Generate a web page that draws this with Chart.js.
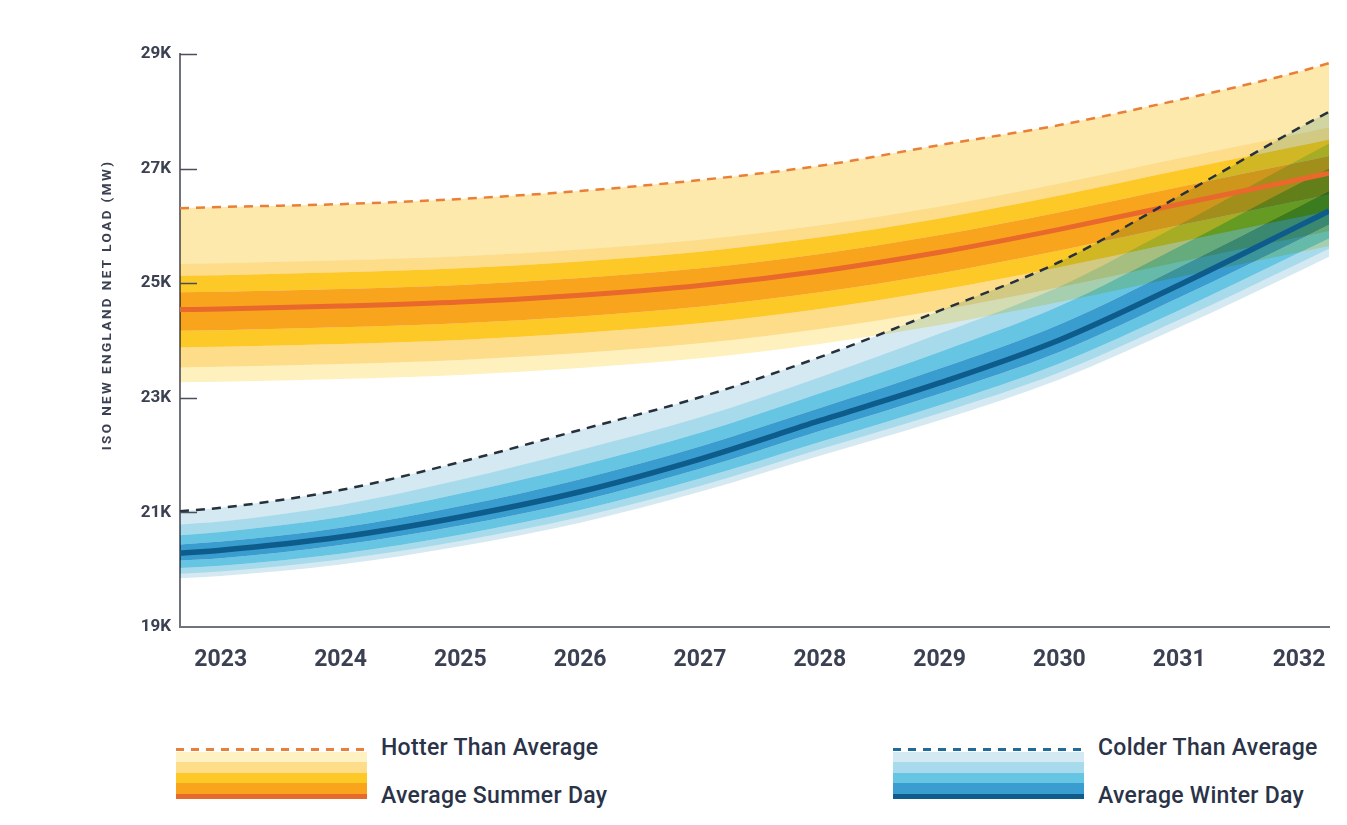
<!DOCTYPE html>
<html><head><meta charset="utf-8">
<script src="https://cdn.jsdelivr.net/npm/chart.js@4.4.0/dist/chart.umd.min.js"></script>
<style>
html,body{margin:0;padding:0;background:#fff;}
body{width:1347px;height:825px;position:relative;overflow:hidden;font-family:Roboto, "Noto Sans", sans-serif;}
#wrap{position:absolute;left:0;top:0;width:1347px;height:700px;}
.s{position:absolute;}
.lt{position:absolute;font-size:23px;font-weight:500;letter-spacing:0.3px;color:#2a3347;line-height:1;white-space:nowrap;}
</style></head><body>
<div id="wrap"><canvas id="c" width="1347" height="700"></canvas></div>

<!-- summer legend swatch -->
<div class="s" style="left:176px;top:748px;width:191px;height:3px;background:repeating-linear-gradient(90deg,#e8803a 0 8px,transparent 8px 15px)"></div>
<div class="s" style="left:176px;top:752px;width:191px;height:10px;background:#fef2c2"></div>
<div class="s" style="left:176px;top:762px;width:191px;height:11px;background:#fddd8a"></div>
<div class="s" style="left:176px;top:773px;width:191px;height:10px;background:#fdc926"></div>
<div class="s" style="left:176px;top:783px;width:191px;height:11px;background:#f8a51d"></div>
<div class="s" style="left:176px;top:794px;width:191px;height:5px;background:#e8692b"></div>
<div class="lt" style="left:381px;top:736px;">Hotter Than Average</div>
<div class="lt" style="left:381px;top:784px;">Average Summer Day</div>

<!-- winter legend swatch -->
<div class="s" style="left:893px;top:748px;width:191px;height:3px;background:repeating-linear-gradient(90deg,#1f6b99 0 8px,transparent 8px 15px)"></div>
<div class="s" style="left:893px;top:752px;width:191px;height:10px;background:#d4e9f1"></div>
<div class="s" style="left:893px;top:762px;width:191px;height:11px;background:#a7dbeb"></div>
<div class="s" style="left:893px;top:773px;width:191px;height:10px;background:#66c5e3"></div>
<div class="s" style="left:893px;top:783px;width:191px;height:11px;background:#3a9dcf"></div>
<div class="s" style="left:893px;top:794px;width:191px;height:5px;background:#0e5c8c"></div>
<div class="lt" style="left:1098px;top:736px;">Colder Than Average</div>
<div class="lt" style="left:1098px;top:784px;">Average Winter Day</div>

<script>
// ---------- DATA ----------
const years = [2022.66, 2023, 2024, 2025, 2026, 2027, 2028, 2029, 2030, 2031, 2032, 2032.25];
const tickYears = [2023, 2024, 2025, 2026, 2027, 2028, 2029, 2030, 2031, 2032];
const xTickLabels = ['2023','2024','2025','2026','2027','2028','2029','2030','2031','2032'];
const yTickValues = [19000, 21000, 23000, 25000, 27000, 29000];
const yTickLabels = ['19K','21K','23K','25K','27K','29K'];
const yAxisTitle = 'ISO NEW ENGLAND NET LOAD (MW)';

// Summer (MW)
const hotterThanAvg      = [26310, 26330, 26380, 26470, 26610, 26800, 27050, 27410, 27760, 28200, 28690, 28840];
const summerLightTop     = [25340, 25350, 25400, 25470, 25590, 25760, 26010, 26340, 26740, 27180, 27610, 27720];
const summerGoldTop      = [25130, 25140, 25190, 25260, 25380, 25550, 25800, 26130, 26530, 26970, 27400, 27510];
const summerOrangeTop    = [24840, 24850, 24900, 24970, 25090, 25260, 25510, 25840, 26240, 26680, 27110, 27220];
const avgSummerDay       = [24540, 24550, 24600, 24670, 24790, 24960, 25210, 25540, 25940, 26380, 26810, 26920];
const summerOrangeBottom = [24170, 24180, 24230, 24300, 24420, 24590, 24840, 25170, 25570, 26010, 26440, 26550];
const summerGoldBottom   = [23880, 23890, 23940, 24010, 24130, 24300, 24550, 24880, 25280, 25720, 26150, 26260];
const summerLightBottom  = [23530, 23540, 23590, 23660, 23780, 23950, 24200, 24530, 24930, 25370, 25800, 25910];
const summerOuterBottom  = [23270, 23280, 23330, 23400, 23520, 23690, 23940, 24270, 24670, 25110, 25540, 25650];

// Winter (MW)
const colderThanAvg      = [21020, 21080, 21390, 21880, 22440, 23010, 23710, 24520, 25370, 26520, 27710, 27990];
const winterPaleTop      = [20790, 20840, 21130, 21570, 22090, 22660, 23360, 24120, 24940, 26020, 27160, 27440];
const winterMidTop       = [20600, 20660, 20920, 21330, 21820, 22390, 23080, 23800, 24600, 25640, 26740, 27000];
const winterDeepTop      = [20440, 20490, 20730, 21110, 21580, 22150, 22820, 23510, 24280, 25280, 26340, 26610];
const avgWinterDay       = [20290, 20340, 20570, 20920, 21360, 21930, 22600, 23260, 24010, 24970, 26000, 26260];
const winterDeepBottom   = [20160, 20200, 20430, 20770, 21200, 21760, 22420, 23070, 23800, 24750, 25760, 26020];
const winterMidBottom    = [20030, 20070, 20280, 20610, 21040, 21590, 22230, 22870, 23600, 24530, 25530, 25780];
const winterPaleBottom   = [19930, 19970, 20180, 20500, 20920, 21460, 22100, 22730, 23440, 24360, 25350, 25600];
const winterOuterBottom  = [19850, 19890, 20090, 20410, 20820, 21360, 21990, 22610, 23320, 24230, 25210, 25460];

// ---------- COLOURS ----------
const C = {
  sHot:'#fce9ab', sLight:'#fef1be', sPale:'#fddd8a', sGold:'#fdc926', sOrange:'#f8a51d', sLine:'#e8692b', sDash:'#ea7f38',
  wCold:'#d4e9f1', wLight:'#a7dbeb', wMid:'#66c5e3', wDeep:'#3a9dcf', wLine:'#0e5c8c', wDash:'#27303d'
};

const pts = arr => years.map((x, i) => ({x, y: arr[i]}));
function band(arr, color, fill, order){
  return {data: pts(arr), backgroundColor: color, fill: fill, borderWidth: 0, pointRadius: 0, order: order,
          cubicInterpolationMode: 'monotone'};
}
function line(arr, color, width, dash, order){
  return {data: pts(arr), borderColor: color, borderWidth: width, borderDash: dash || [], fill: false,
          pointRadius: 0, order: order, cubicInterpolationMode: 'monotone', borderCapStyle: 'butt'};
}

const datasets = [
  // summer bands
  band(summerOuterBottom, 'rgba(0,0,0,0)', false, 5),
  band(summerLightBottom, C.sLight, '-1', 5),
  band(summerGoldBottom, C.sPale, '-1', 5),
  band(summerOrangeBottom, C.sGold, '-1', 5),
  band(avgSummerDay, C.sOrange, '-1', 5),
  band(summerOrangeTop, C.sOrange, '-1', 5),
  band(summerGoldTop, C.sGold, '-1', 5),
  band(summerLightTop, C.sPale, '-1', 5),
  band(hotterThanAvg, C.sHot, '-1', 5),
  // winter bands
  band(winterOuterBottom, 'rgba(0,0,0,0)', false, 4),
  band(winterPaleBottom, C.wCold, '-1', 4),
  band(winterMidBottom, C.wLight, '-1', 4),
  band(winterDeepBottom, C.wMid, '-1', 4),
  band(avgWinterDay, C.wDeep, '-1', 4),
  band(winterDeepTop, C.wDeep, '-1', 4),
  band(winterMidTop, C.wMid, '-1', 4),
  band(winterPaleTop, C.wLight, '-1', 4),
  band(colderThanAvg, C.wCold, '-1', 4),
  // lines
  line(avgSummerDay, C.sLine, 5, null, 2),
  line(avgWinterDay, C.wLine, 5.5, null, 1),
  line(hotterThanAvg, C.sDash, 2.5, [9, 7], 0),
  line(colderThanAvg, C.wDash, 2.5, [9, 7], 0)
];

// fills blend with multiply; strokes drawn normally
const blendPlugin = {
  id: 'blend',
  beforeDatasetsDraw(chart){ chart.ctx.globalCompositeOperation = 'multiply'; },
  beforeDatasetDraw(chart){ chart.ctx.globalCompositeOperation = 'source-over'; },
  afterDatasetDraw(chart){ chart.ctx.globalCompositeOperation = 'multiply'; },
  afterDatasetsDraw(chart){ chart.ctx.globalCompositeOperation = 'source-over'; }
};

const decorPlugin = {
  id: 'decor',
  afterDraw(chart){
    const ctx = chart.ctx, ys = chart.scales.y, area = chart.chartArea;
    ctx.save();
    ctx.strokeStyle = '#4a4e5a';
    ctx.lineWidth = 1.5;
    yTickValues.forEach(v => {
      const py = Math.round(ys.getPixelForValue(v)) + 0.5;
      if (v === yTickValues[0]) return;
      ctx.beginPath(); ctx.moveTo(area.left, py); ctx.lineTo(area.left + 17, py); ctx.stroke();
    });
    ctx.translate(108, 305);
    ctx.rotate(-Math.PI / 2);
    ctx.font = 'bold 13.5px Roboto';
    if ('letterSpacing' in ctx) ctx.letterSpacing = '2.4px';
    ctx.fillStyle = '#3b4052';
    ctx.textAlign = 'center';
    ctx.textBaseline = 'middle';
    ctx.fillText(yAxisTitle, 0, 0);
    ctx.restore();
  }
};

new Chart(document.getElementById('c'), {
  type: 'line',
  data: { datasets },
  options: {
    responsive: false,
    animation: false,
    events: [],
    layout: { padding: { top: 54, right: 18, left: 0, bottom: 0 } },
    plugins: { legend: { display: false }, tooltip: { enabled: false }, filler: { propagate: false } },
    scales: {
      x: {
        type: 'linear', min: years[0], max: years[years.length - 1],
        afterBuildTicks: s => { s.ticks = tickYears.map(v => ({ value: v })); },
        afterFit: s => { s.height = 73; },
        grid: { display: true, drawOnChartArea: false, drawTicks: false },
        border: { display: true, color: '#70737e', width: 2 },
        ticks: { callback: (v, i) => xTickLabels[i], color: '#3b4052', padding: 19, maxRotation: 0,
                 font: { family: 'Roboto', size: 23, weight: 'bold' } }
      },
      y: {
        type: 'linear', min: 19000, max: 29000,
        afterBuildTicks: s => { s.ticks = yTickValues.map(v => ({ value: v })); },
        afterFit: s => { s.width = 180; },
        grid: { display: true, drawOnChartArea: false, drawTicks: false },
        border: { display: true, color: '#70737e', width: 2 },
        ticks: { callback: (v, i) => yTickLabels[i], color: '#3b4052', padding: 9,
                 font: { family: 'Roboto', size: 17, weight: 'bold' } }
      }
    }
  },
  plugins: [blendPlugin, decorPlugin]
});
</script>
</body></html>
